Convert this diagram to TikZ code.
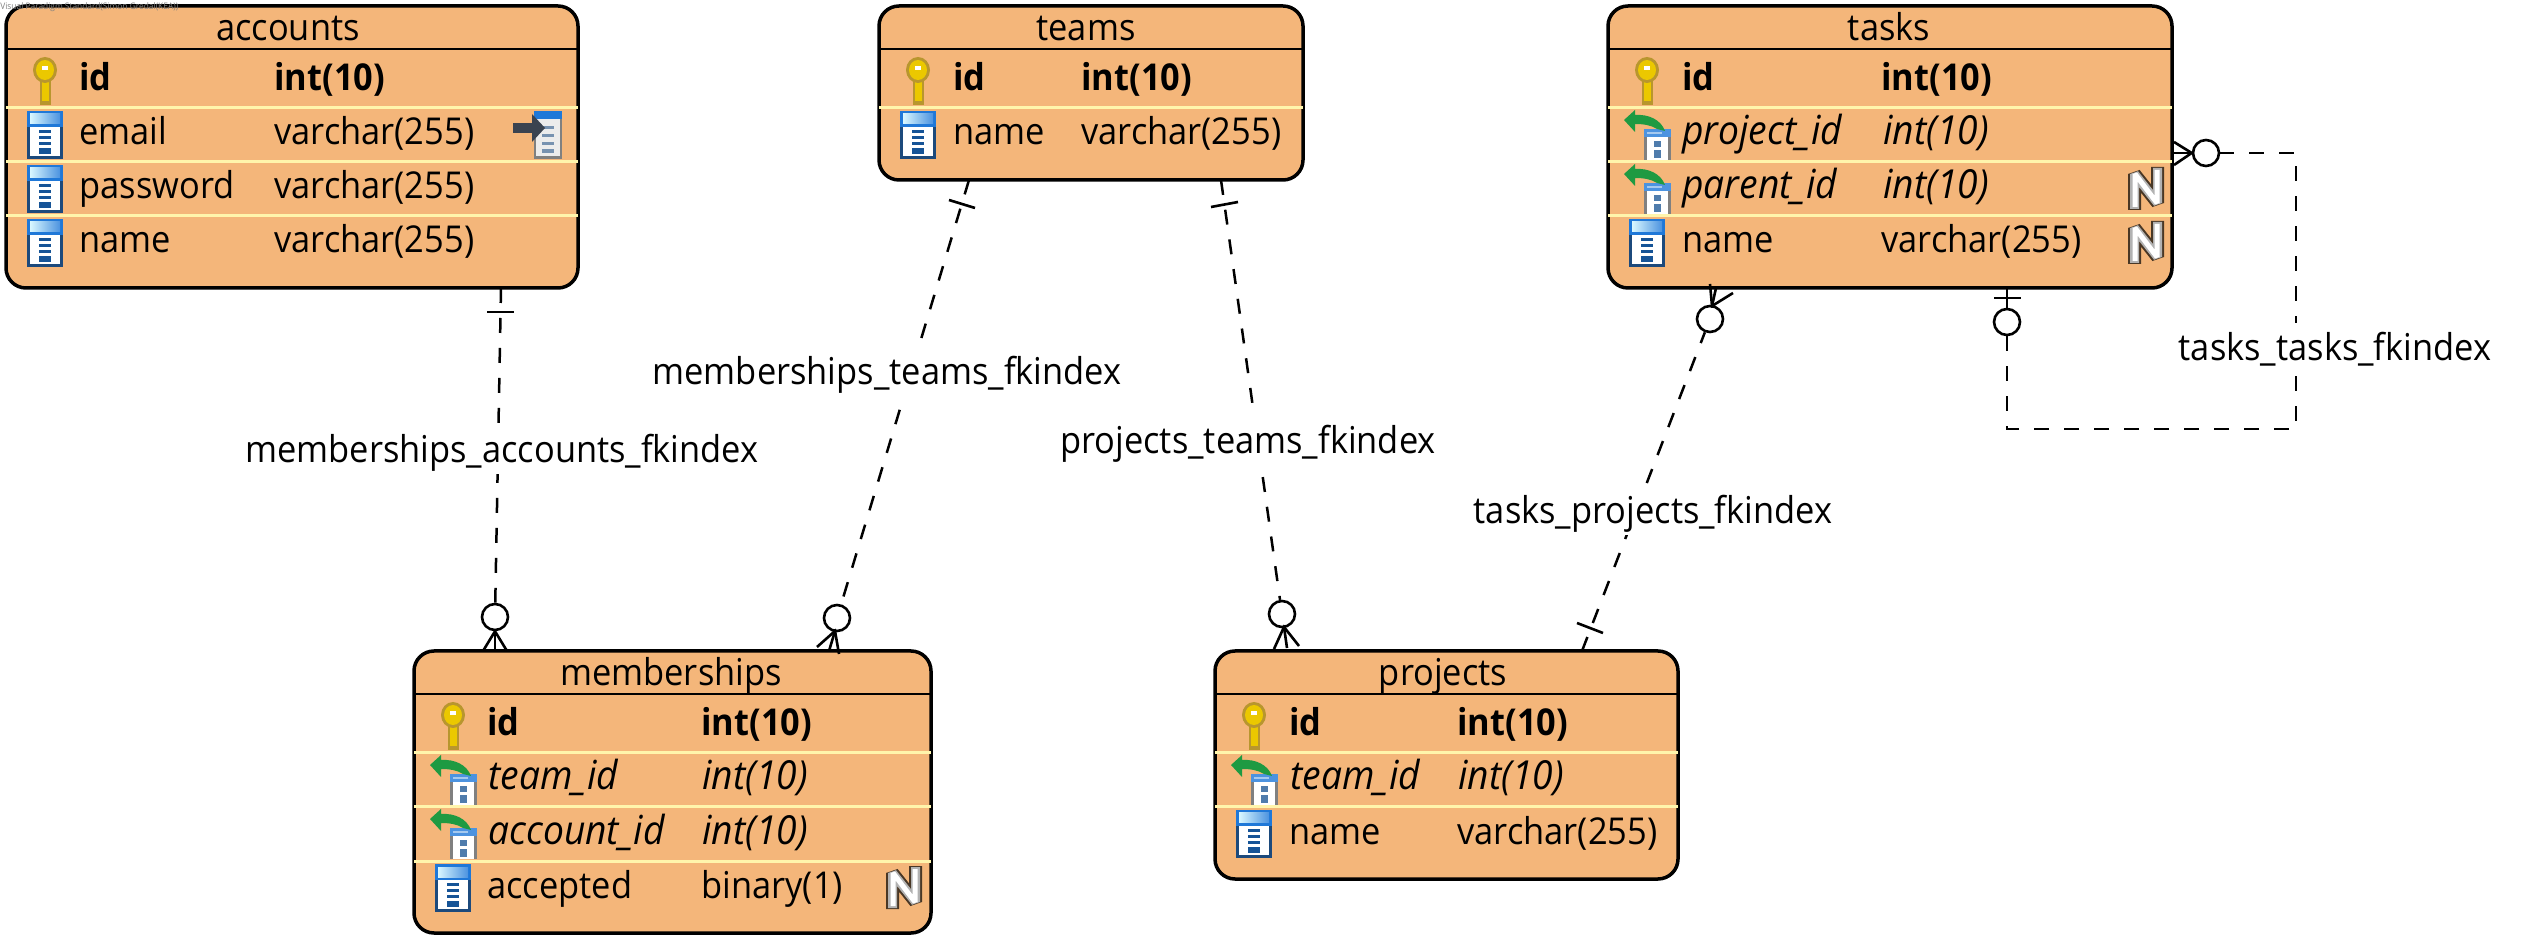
\documentclass[tikz,border=0pt]{standalone}
\usepackage{fontspec}
\setmainfont[FakeStretch=0.93]{Open Sans}
\definecolor{tablefill}{HTML}{F4B67A}
\definecolor{rowline}{HTML}{FFF5AC}
\definecolor{iconnavy}{HTML}{1C4A7C}
\definecolor{iconblue}{HTML}{1F78D8}
\definecolor{keygold}{HTML}{EBC800}
\definecolor{keyedge}{HTML}{B8962E}
\definecolor{fkgreen}{HTML}{1E9A42}
\definecolor{arrowslate}{HTML}{3A4350}
\newcommand{\rowfont}{\fontsize{18.5pt}{22pt}\selectfont}
\newcommand{\rowbold}{\fontsize{18.5pt}{22pt}\bfseries}
\newcommand{\rowslant}{\fontsize{20pt}{24pt}\itshape}
\tikzset{
  tablebox/.style={draw=black, line width=1.75pt, fill=tablefill, rounded corners=10pt, anchor=north west, outer sep=0pt},
  headline/.style={draw=black, line width=1pt},
  rowsep/.style={draw=rowline, line width=1.5pt},
  tabletitle/.style={anchor=base},
  colname/.style={anchor=base west},
  fklabel/.style={anchor=base, fill=white, text depth=5.5pt, text height=19pt},
  erdash/.style={line width=1.25pt, dash pattern=on 7.5pt off 7.5pt},
  ersolid/.style={line width=1.3pt},
  ercircle/.style={circle, draw=black, line width=1.3pt, fill=white, minimum size=13pt},
  keyicon/.pic={
    \fill[keyedge] (-5.5,20) rectangle (5.5,48);
    \fill[keygold] (-3.5,20) rectangle (3.5,44);
    \fill[keyedge] (0,13) ellipse (6pt and 6.5pt);
    \fill[keygold] (0,13) ellipse (4.5pt and 5pt);
    \fill[white] (-3,9) rectangle (3,13);
  },
  colicon/.pic={
    \fill[iconnavy] (-18,0) rectangle (18,48);
    \fill[iconblue] (-18,0) rectangle (18,16);
    \shade[left color=blue!20!cyan!15, right color=iconblue!80] (-15,3) rectangle (15,13);
    \fill[white] (-15,16) rectangle (15,45);
    \fill[iconblue!70!black] (-6,19) rectangle (6,22);
    \fill[iconblue!70!black] (-6,25) rectangle (6,28);
    \fill[iconblue!70!black] (-6,31) rectangle (6,34);
    \fill[iconblue!70!black] (-6,37) rectangle (6,43);
  },
  fkicon/.pic={
    \fill[gray] (-3,18) rectangle (24,49);
    \fill[white] (0,26) rectangle (21,49);
    \fill[iconblue!80] (-3,18) rectangle (24,26);
    \fill[white!60!iconblue] (0,21) rectangle (15,23);
    \fill[iconblue!50!gray] (7,30) rectangle (14,36);
    \fill[iconblue!50!gray] (7,39) rectangle (14,47);
    \fill[fkgreen] (-23,9) -- (-12,-1) -- (-12,4) .. controls (2,3) and (14,9) .. (18,20) -- (10,18) .. controls (4,14) and (-4,13) .. (-12,13) -- (-12,21) -- cycle;
  },
  nullicon/.pic={
    \draw[black!70!tablefill, line width=6.5pt, line join=bevel] (6.5,45) -- (6.5,9) -- (29.5,38) -- (29.5,2);
    \draw[gray!60, line width=4.5pt, line join=bevel] (6.5,44) -- (6.5,9) -- (29.5,38) -- (29.5,3);
    \draw[white, line width=2.5pt, line join=bevel] (7,42) -- (7,9) -- (29,38) -- (29,5);
  },
  uniqicon/.pic={
    \fill[gray] (0,0) rectangle (28,48);
    \fill[iconblue] (0,0) rectangle (28,8);
    \fill[gray!15] (2,8) rectangle (26,45);
    \fill[iconnavy!60] (8,15) rectangle (20,18);
    \fill[iconnavy!60] (8,23) rectangle (20,26);
    \fill[iconnavy!60] (8,31) rectangle (20,34);
    \fill[iconnavy!60] (8,38) rectangle (20,42);
    \fill[arrowslate] (-21,12) rectangle (-2,22);
    \fill[arrowslate] (-2,3) -- (11,17) -- (-2,31) -- cycle;
  }
}
\begin{document}
\begin{tikzpicture}[x=0.5pt, y=-0.5pt, every node/.style={inner sep=0pt, font=\rowfont}]
  \useasboundingbox (0,0) rectangle (2538,945);
  % accounts
  \node[tablebox, minimum width=286pt, minimum height=141pt] (accounts) at (6,6) {};
  \draw[headline] (6,49) -- (578,49);
  \draw[rowsep] (6,108) -- (578,108);
  \draw[rowsep] (6,162) -- (578,162);
  \draw[rowsep] (6,216) -- (578,216);
  \node[tabletitle] (accountsTitle) at (288,41) {accounts};
  \pic at (45,57) {keyicon};
  \pic at (45,111) {colicon};
  \pic at (45,165) {colicon};
  \pic at (45,219) {colicon};
  \pic at (534,111) {uniqicon};
  \node[colname, font=\rowbold] (accId) at (79,91) {id};
  \node[colname, font=\rowbold] (accIdType) at (274,91) {int(10)};
  \node[colname] (accEmail) at (79,145) {email};
  \node[colname] (accEmailType) at (274,145) {varchar(255)};
  \node[colname] (accPassword) at (79,199) {password};
  \node[colname] (accPasswordType) at (274,199) {varchar(255)};
  \node[colname] (accName) at (79,253) {name};
  \node[colname] (accNameType) at (274,253) {varchar(255)};
  % teams
  \node[tablebox, minimum width=212pt, minimum height=87pt] (teams) at (879,6) {};
  \draw[headline] (879,49) -- (1303,49);
  \draw[rowsep] (879,108) -- (1303,108);
  \node[tabletitle] (teamsTitle) at (1086,41) {teams};
  \pic at (918,57) {keyicon};
  \pic at (918,111) {colicon};
  \node[colname, font=\rowbold] (teamId) at (953,91) {id};
  \node[colname, font=\rowbold] (teamIdType) at (1081,91) {int(10)};
  \node[colname] (teamName) at (953,145) {name};
  \node[colname] (teamNameType) at (1081,145) {varchar(255)};
  % tasks
  \node[tablebox, minimum width=282pt, minimum height=141pt] (tasks) at (1608,6) {};
  \draw[headline] (1608,49) -- (2172,49);
  \draw[rowsep] (1608,108) -- (2172,108);
  \draw[rowsep] (1608,162) -- (2172,162);
  \draw[rowsep] (1608,216) -- (2172,216);
  \node[tabletitle] (tasksTitle) at (1889,41) {tasks};
  \pic at (1647,57) {keyicon};
  \pic at (1647,111) {fkicon};
  \pic at (1647,165) {fkicon};
  \pic at (1647,219) {colicon};
  \pic at (2128,165) {nullicon};
  \pic at (2128,219) {nullicon};
  \node[colname, font=\rowbold] (taskId) at (1682,91) {id};
  \node[colname, font=\rowbold] (taskIdType) at (1881,91) {int(10)};
  \node[colname, font=\rowslant] (taskProject) at (1682,145) {project\_id};
  \node[colname, font=\rowslant] (taskProjectType) at (1883,145) {int(10)};
  \node[colname, font=\rowslant] (taskParent) at (1682,199) {parent\_id};
  \node[colname, font=\rowslant] (taskParentType) at (1883,199) {int(10)};
  \node[colname] (taskName) at (1682,253) {name};
  \node[colname] (taskNameType) at (1881,253) {varchar(255)};
  % memberships
  \node[tablebox, minimum width=258.5pt, minimum height=141pt] (memberships) at (414,651) {};
  \draw[headline] (414,694) -- (931,694);
  \draw[rowsep] (414,753) -- (931,753);
  \draw[rowsep] (414,807) -- (931,807);
  \draw[rowsep] (414,861) -- (931,861);
  \node[tabletitle] (membershipsTitle) at (671,686) {memberships};
  \pic at (453,702) {keyicon};
  \pic at (453,756) {fkicon};
  \pic at (453,810) {fkicon};
  \pic at (453,864) {colicon};
  \pic at (886,864) {nullicon};
  \node[colname, font=\rowbold] (memId) at (487,736) {id};
  \node[colname, font=\rowbold] (memIdType) at (701,736) {int(10)};
  \node[colname, font=\rowslant] (memTeam) at (488,790) {team\_id};
  \node[colname, font=\rowslant] (memTeamType) at (702,790) {int(10)};
  \node[colname, font=\rowslant] (memAccount) at (488,844) {account\_id};
  \node[colname, font=\rowslant] (memAccountType) at (702,844) {int(10)};
  \node[colname] (memAccepted) at (487,898) {accepted};
  \node[colname] (memAcceptedType) at (701,898) {binary(1)};
  % projects
  \node[tablebox, minimum width=231.5pt, minimum height=114pt] (projects) at (1215,651) {};
  \draw[headline] (1215,694) -- (1678,694);
  \draw[rowsep] (1215,753) -- (1678,753);
  \draw[rowsep] (1215,807) -- (1678,807);
  \node[tabletitle] (projectsTitle) at (1443,686) {projects};
  \pic at (1254,702) {keyicon};
  \pic at (1254,756) {fkicon};
  \pic at (1254,810) {colicon};
  \node[colname, font=\rowbold] (projId) at (1289,736) {id};
  \node[colname, font=\rowbold] (projIdType) at (1457,736) {int(10)};
  \node[colname, font=\rowslant] (projTeam) at (1290,790) {team\_id};
  \node[colname, font=\rowslant] (projTeamType) at (1458,790) {int(10)};
  \node[colname] (projName) at (1289,844) {name};
  \node[colname] (projNameType) at (1457,844) {varchar(255)};
  % connectors
  \node[ercircle] (cAccMem) at (495,617) {};
  \node[ercircle] (cTeamMem) at (837,618) {};
  \node[ercircle] (cTeamProj) at (1282,614) {};
  \node[ercircle] (cTaskProj) at (1710,319) {};
  \node[ercircle] (cSelfOne) at (2007,322) {};
  \node[ercircle] (cSelfMany) at (2206,153) {};
  \coordinate (accOut) at (501,288);
  \coordinate (teamOutA) at (969,180);
  \coordinate (teamOutB) at (1221,180);
  \coordinate (projOut) at (1582,651);
  \coordinate (selfOut) at (2007,288);
  \coordinate (selfLow) at (2007,429);
  \coordinate (selfFar) at (2296,429);
  \coordinate (selfTop) at (2296,153);
  \draw[erdash] (accOut) -- (cAccMem);
  \draw[erdash] (teamOutA) -- (cTeamMem);
  \draw[erdash] (teamOutB) -- (cTeamProj);
  \draw[erdash] (projOut) -- (cTaskProj);
  \draw[erdash] (cSelfOne) -- (selfLow) -- (selfFar) -- (selfTop) -- (cSelfMany);
  \draw[ersolid] (selfOut) -- (cSelfOne);
  % one bars
  \draw[ersolid] (487,312) -- (514,312);
  \draw[ersolid] (949,200) -- (975,208);
  \draw[ersolid] (1211,207) -- (1238,202);
  \draw[ersolid] (1577,623) -- (1603,633);
  \draw[ersolid] (1994,298) -- (2021,298);
  % crow feet
  \draw[ersolid] (483,651) -- (cAccMem.south) -- (507,651);
  \draw[ersolid] (cAccMem.south) -- (495,651);
  \draw[ersolid] (817,647) -- (835,631) -- (839,654);
  \draw[ersolid] (835,631) -- (829,651);
  \draw[ersolid] (1274,649) -- (1284,627) -- (1299,646);
  \draw[ersolid] (1284,627) -- (1287,648);
  \draw[ersolid] (1710,284) -- (1712,306) -- (1733,293);
  \draw[ersolid] (1712,306) -- (1716,288);
  \draw[ersolid] (2174,142) -- (cSelfMany.west) -- (2174,165);
  \draw[ersolid] (cSelfMany.west) -- (2174,153);
  % labels
  \node[fklabel] (lblAccMem) at (502,463) {memberships\_accounts\_fkindex};
  \node[fklabel] (lblTeamMem) at (887,385) {memberships\_teams\_fkindex};
  \node[fklabel] (lblTeamProj) at (1248,454) {projects\_teams\_fkindex};
  \node[fklabel] (lblTaskProj) at (1653,524) {tasks\_projects\_fkindex};
  \node[fklabel] (lblSelf) at (2335,361) {tasks\_tasks\_fkindex};
  \node[anchor=base west, text=gray, font=\fontsize{4.5pt}{5pt}\selectfont] (stamp) at (0,10) {Visual Paradigm Standard(Simon Gredal(KEA))};
\end{tikzpicture}
\end{document}
